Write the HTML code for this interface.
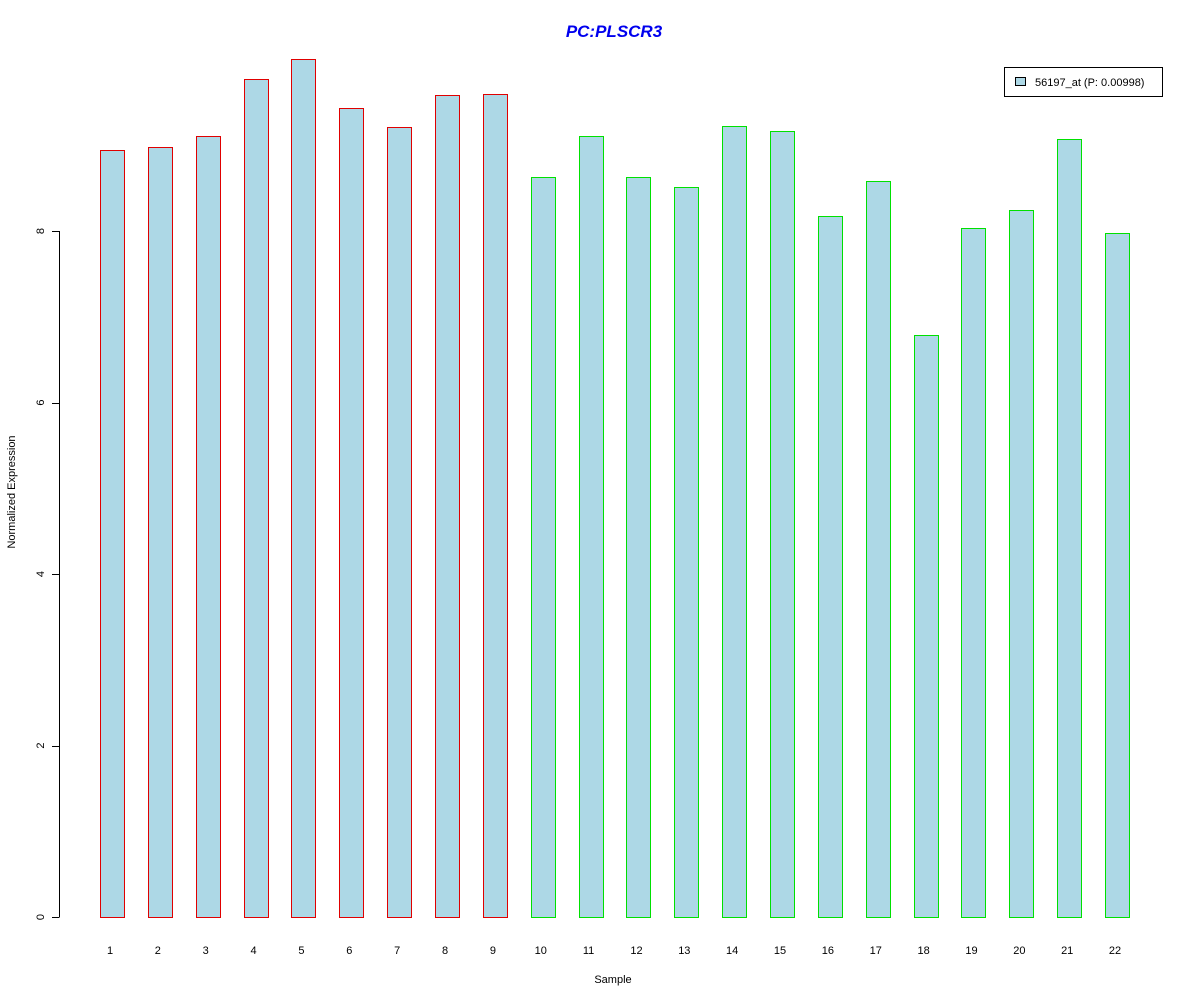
<!DOCTYPE html>
<html><head><meta charset="utf-8"><style>
body{margin:0;background:#fff;font-family:"Liberation Sans",sans-serif}
svg text{font-family:"Liberation Sans",sans-serif}
</style></head><body>
<svg width="1200" height="1000" viewBox="0 0 1200 1000">
<rect x="0" y="0" width="1200" height="1000" fill="#fff"/>
<text x="614" y="37" text-anchor="middle" font-size="17" font-weight="bold" font-style="italic" fill="#0000ee">PC:PLSCR3</text>
<g id="yaxis"></g>
<g id="bars"></g>
<g id="xlabels"></g>
<text x="613" y="983" text-anchor="middle" font-size="11">Sample</text>
<text transform="translate(15,492) rotate(-90)" text-anchor="middle" font-size="11">Normalized Expression</text>
<g>
<rect x="1004.5" y="67.5" width="158" height="29" fill="#fff" stroke="#000"/>
<rect x="1015.5" y="77.5" width="10" height="8" fill="#add8e6" stroke="#000"/>
<text x="1035" y="86" font-size="11">56197_at (P: 0.00998)</text>
</g>
</svg>
<script>
const categories=["1","2","3","4","5","6","7","8","9","10","11","12","13","14","15","16","17","18","19","20","21","22"];
const values=[8.94,8.98,9.11,9.77,10.01,9.43,9.21,9.59,9.60,8.63,9.11,8.63,8.51,9.22,9.17,8.17,8.58,6.79,8.03,8.24,9.07,7.98];
const groups=["r","r","r","r","r","r","r","r","r","g","g","g","g","g","g","g","g","g","g","g","g","g"];
const yTicks=[0,2,4,6,8];
const NS="http://www.w3.org/2000/svg";
const y=v=>917-v*85.75;
const xc=i=>112+i*47.86;
const bars=document.getElementById('bars'),xl=document.getElementById('xlabels'),ya=document.getElementById('yaxis');
function mk(t,a,p){const e=document.createElementNS(NS,t);for(const k in a)e.setAttribute(k,a[k]);p.appendChild(e);return e;}
const ax=mk('line',{x1:59.5,x2:59.5,y1:y(0),y2:y(8),stroke:'#000'},ya);


yTicks.forEach(t=>{
 const l=mk('line',{x1:52,x2:59.5,y1:Math.round(y(t))+.5,y2:Math.round(y(t))+.5,stroke:'#000'},ya);
 
 
 const tx=mk('text',{transform:`translate(44,${y(t)}) rotate(-90)`,'text-anchor':'middle','font-size':11},ya);
 tx.textContent=t;
 
 
});
values.forEach((v,i)=>{
 const r=mk('rect',{x:Math.round(xc(i)-12)+.5,y:Math.round(y(v))+.5,width:24,height:Math.round(y(0))-Math.round(y(v)),fill:'#add8e6',stroke:groups[i]=='r'?'#e00000':'#00e000'},bars);
 
 
 const t=mk('text',{x:xc(i)-2,y:954,'text-anchor':'middle','font-size':11},xl);
 t.textContent=categories[i];
 
 
});
</script>
</body></html>
